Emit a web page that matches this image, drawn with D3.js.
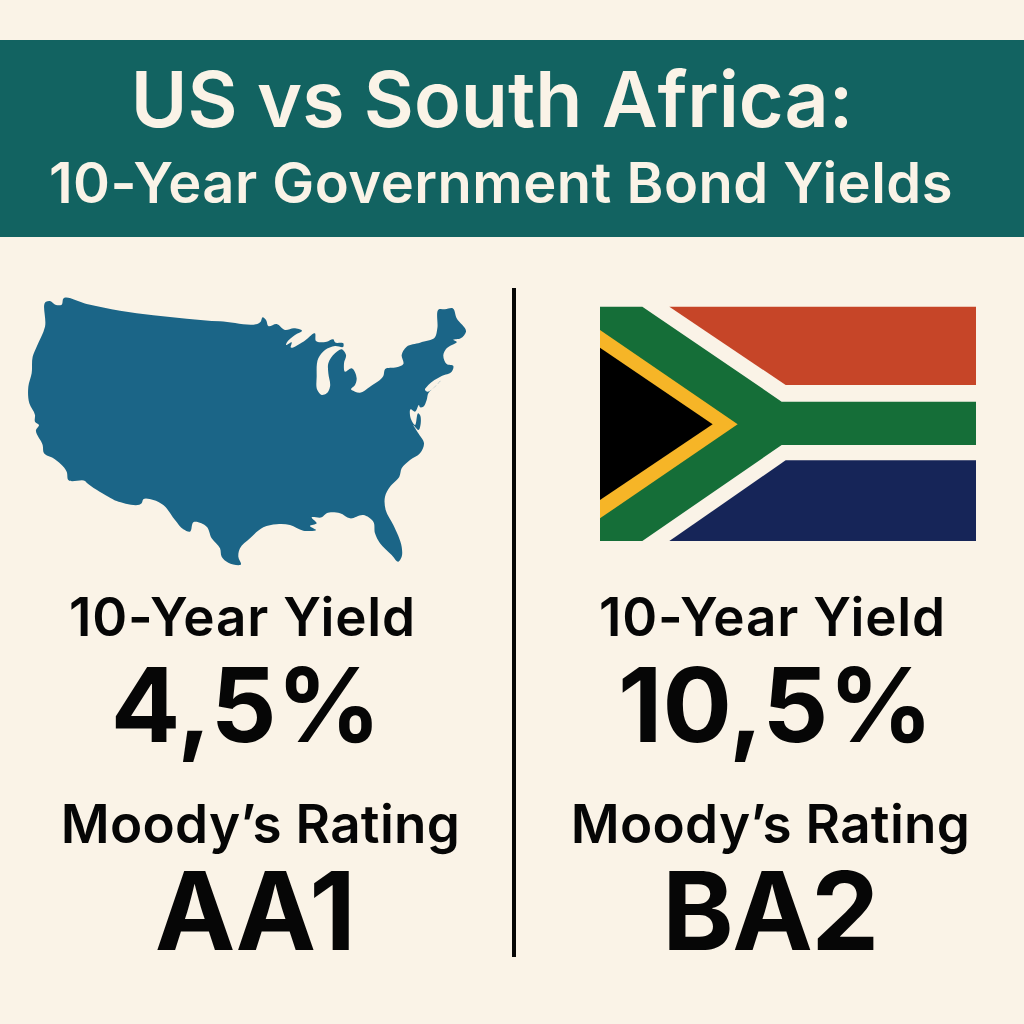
<!DOCTYPE html>
<html>
<head>
<meta charset="utf-8">
<script src="https://cdn.jsdelivr.net/npm/d3@7/dist/d3.min.js"></script>
<style>
    html, body { margin: 0; padding: 0; background: #faf3e7; }
    svg { display: block; }
    text { font-family: Inter, "Noto Sans", sans-serif; text-anchor: middle; }
</style>
</head>
<body>
<svg id="chart" width="1024" height="1024"></svg>
<script>
'use strict'

const titleLines = ["US vs South Africa:", "10-Year Government Bond Yields"];
const countries = ["US", "South Africa"];
const yields = [4.5, 10.5];
const ratings = ["AA1", "BA2"];
const yieldLabel = "10-Year Yield";
const ratingLabel = "Moody\u2019s Rating";

// outline, in trace units (1380 x 840)
const usOutline = [
    [78,35],[90,33],[108,45],[125,44],[130,26],[200,42],[300,62],[400,76],[500,86],[600,94],[722,95],[728,82],[738,90],[745,108],
    [770,102],[795,120],[822,115],[846,122],[825,135],[800,158],[798,165],[815,157],[812,172],[850,155],[885,130],[888,153],[920,155],
    [940,148],[945,157],[970,160],[970,170],[945,168],[915,180],[895,205],[890,260],[892,300],[905,315],[920,310],[930,290],[925,250],
    [925,220],[945,190],[965,178],[978,195],[972,220],[975,245],[995,235],[1010,265],[1005,285],[993,298],[1005,305],[1020,308],[1050,290],
    [1090,258],[1095,238],[1130,232],[1150,222],[1145,195],[1160,170],[1200,158],[1245,142],[1252,115],[1257,58],[1275,58],[1298,55],
    [1310,85],[1338,125],[1322,145],[1300,150],[1310,155],[1280,175],[1270,195],[1280,222],[1300,228],[1295,245],[1265,258],[1225,285],
    [1215,300],[1222,305],[1262,272],[1245,290],[1225,310],[1220,330],[1210,350],[1200,352],[1197,345],[1185,365],[1172,358],[1172,385],
    [1185,405],[1195,370],[1200,375],[1195,420],[1180,405],[1195,430],[1212,460],[1200,490],[1170,510],[1145,535],[1138,560],[1110,590],
    [1095,620],[1097,660],[1120,705],[1145,770],[1145,800],[1135,815],[1115,795],[1080,760],[1065,730],[1060,695],[1030,675],[990,685],
    [960,670],[920,670],[905,682],[875,682],[890,700],[870,708],[888,720],[850,722],[810,705],[770,703],[730,712],[690,745],[660,775],
    [655,800],[663,823],[625,818],[605,800],[600,775],[575,745],[560,710],[520,697],[510,725],[490,718],[465,690],[430,645],[400,630],
    [370,628],[365,640],[290,633],[265,620],[200,578],[195,573],[145,570],[140,545],[100,505],[72,490],[68,465],[48,420],[57,405],[45,395],
    [45,375],[28,340],[25,290],[35,250],[38,200],[50,170],[75,110]
];

// flag shapes, in trace units (1185 x 765)
const flagGreen = [[30,35],[157,35],[575,320],[1158,320],[1158,450],[575,450],[157,738],[30,738]];
const flagYellow = [[30,105],[443,388],[30,670]];
const flagBlack = [[30,158],[368,388],[30,615]];
const flagRed = [[238,35],[1158,35],[1158,270],[587,270]];
const flagBlue = [[238,738],[587,496],[1158,496],[1158,738]];

const backgroundColor = "#faf3e7";
const bannerColor = "#126361";
const mapColor = "#1b6587";
const inkColor = "#060606";

const svg = d3.select("#chart");

svg.append("rect").attr("width", 1024).attr("height", 1024).attr("fill", backgroundColor);
svg.append("rect").attr("x", 0).attr("y", 40).attr("width", 1024).attr("height", 197).attr("fill", bannerColor);

svg.append("text").attr("x", 492).attr("y", 127)
    .attr("fill", backgroundColor)
    .style("font-size", "77px").style("font-weight", 600)
    .text(titleLines[0]);
svg.append("text").attr("x", 501).attr("y", 203)
    .attr("fill", backgroundColor)
    .style("font-size", "56px").style("font-weight", 600)
    .style("letter-spacing", "0.5px")
    .text(titleLines[1]);

// divider
svg.append("rect").attr("x", 512).attr("y", 288).attr("width", 4).attr("height", 669).attr("fill", inkColor);

// map
const mapX = d3.scaleLinear().domain([0, 1380]).range([20, 480]);
const mapY = d3.scaleLinear().domain([0, 840]).range([290, 570]);
const mapLine = d3.line().x(d => mapX(d[0])).y(d => mapY(d[1])).curve(d3.curveCatmullRomClosed.alpha(0.8));

svg.append("path").attr("d", mapLine(usOutline)).attr("fill", mapColor);

// flag
const flagX = d3.scaleLinear().domain([0, 1185]).range([590, 985]);
const flagY = d3.scaleLinear().domain([0, 765]).range([295, 550]);
const flagLine = d3.line().x(d => flagX(d[0])).y(d => flagY(d[1])).curve(d3.curveLinearClosed);

const flagParts = [
    { shape: flagRed, color: "#c64528" },
    { shape: flagBlue, color: "#162558" },
    { shape: flagGreen, color: "#156e38" },
    { shape: flagYellow, color: "#f6b527" },
    { shape: flagBlack, color: "#000000" }
];

svg.selectAll(".flag-part")
    .data(flagParts)
    .enter()
    .append("path")
    .classed("flag-part", 1)
    .attr("d", d => flagLine(d.shape))
    .attr("fill", d => d.color);

// country columns
const columnX = d3.scaleOrdinal().domain(countries).range([242.5, 772.5]);
const formatYield = (v) => d3.format(".1f")(v).replace(".", ",") + "%";

const columns = svg.selectAll(".country-col")
    .data(countries)
    .enter()
    .append("g")
    .classed("country-col", 1)
    .attr("fill", inkColor);

columns.append("text")
    .attr("x", d => columnX(d))
    .attr("y", 636)
    .style("font-size", "53px").style("font-weight", 600)
    .style("letter-spacing", "0.8px")
    .text(yieldLabel);

columns.append("text")
    .attr("x", (d, i) => columnX(d) + (i ? 3 : 3.5))
    .attr("y", 742)
    .style("font-size", "103px").style("font-weight", 700)
    .text((d, i) => formatYield(yields[i]));

columns.append("text")
    .attr("x", (d, i) => columnX(d) + (i ? -2 : 18))
    .attr("y", 843)
    .style("font-size", "53px").style("font-weight", 600)
    .style("letter-spacing", "0.3px")
    .text(ratingLabel);

columns.append("text")
    .attr("x", (d, i) => columnX(d) + (i ? -2.5 : 12))
    .attr("y", 950)
    .style("font-size", "108px").style("font-weight", 700)
    .style("letter-spacing", "-1.5px")
    .text((d, i) => ratings[i]);
</script>
</body>
</html>
